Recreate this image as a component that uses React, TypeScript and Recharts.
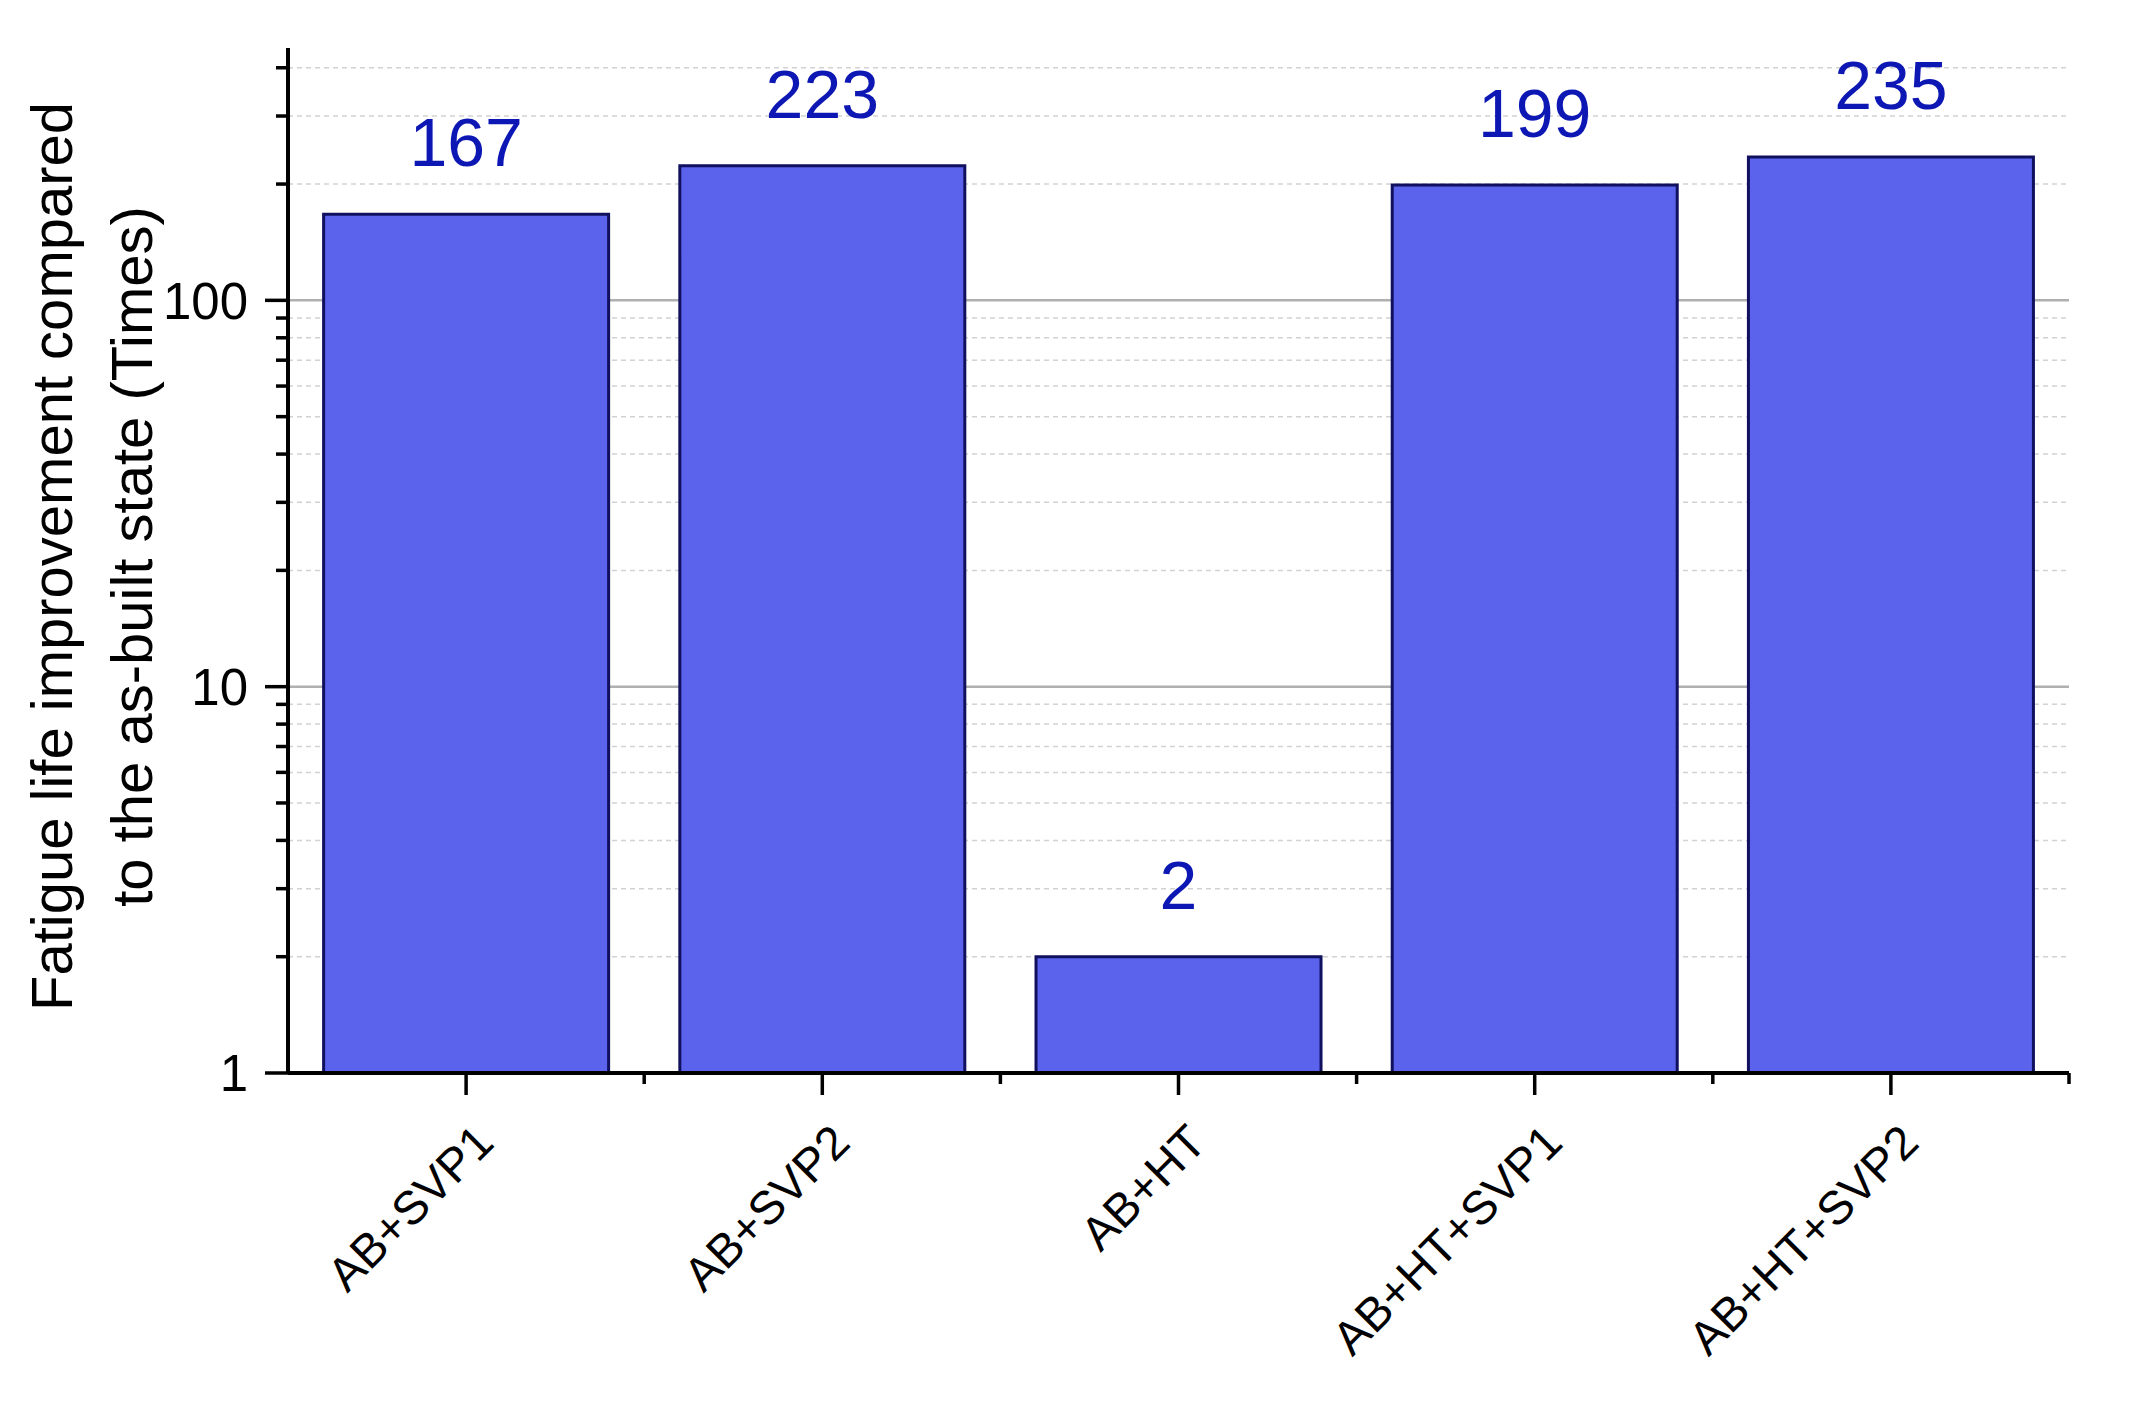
// Fatigue life improvement per post-treatment, log-scale bar chart (Recharts).

import { Bar, BarChart, CartesianGrid, LabelList, XAxis, YAxis } from 'recharts'

const categories = ['AB+SVP1', 'AB+SVP2', 'AB+HT', 'AB+HT+SVP1', 'AB+HT+SVP2']
const improvement = [167, 223, 2, 199, 235]

const majorTicks = [1, 10, 100]
const minorTicks = [2, 3, 4, 5, 6, 7, 8, 9, 20, 30, 40, 50, 60, 70, 80, 90, 200, 300, 400]
const yDomainMax = 450

const titleLines = ['Fatigue life improvement compared', 'to the as-built state (Times)']

const data = categories.map((name, i) => ({ name, value: improvement[i] }))

const W = 2149
const H = 1411
const M = { top: 48, right: 80, left: 0, bottom: 0 }
const Y_AXIS_W = 288
const X_AXIS_H = 338
const FONT = '"Liberation Sans", Arial, Helvetica, sans-serif'

const plotW = W - M.left - M.right - Y_AXIS_W
const band = plotW / categories.length

function YTick(props: any) {
  const { x, y, payload } = props
  const major = majorTicks.includes(payload.value)
  return (
    <g>
      <line x1={x} x2={x - (major ? 23 : 12)} y1={y} y2={y} stroke="#000" strokeWidth={3.5} />
      {major && (
        <text
          x={x - 40}
          y={y}
          dy="0.36em"
          textAnchor="end"
          fontFamily={FONT}
          fontSize={51}
          fill="#000"
        >
          {payload.value}
        </text>
      )}
    </g>
  )
}

function XTick(props: any) {
  const { x, y, payload } = props
  const bx = x + band / 2
  const tx = x + 30
  const ty = y + 72
  return (
    <g>
      <line x1={x} x2={x} y1={y} y2={y + 22} stroke="#000" strokeWidth={3.5} />
      <line x1={bx} x2={bx} y1={y} y2={y + 11} stroke="#000" strokeWidth={3.5} />
      <text
        x={tx}
        y={ty}
        textAnchor="end"
        transform={`rotate(-45, ${tx}, ${ty})`}
        fontFamily={FONT}
        fontSize={47}
        fill="#000"
      >
        {payload.value}
      </text>
    </g>
  )
}

function YTitle(props: any) {
  const vb = props.viewBox || {}
  const cy = vb.y + vb.height / 2 - 4
  const xs = [72, 152]
  return (
    <g>
      {titleLines.map((t, i) => (
        <text
          key={t}
          x={xs[i]}
          y={cy}
          textAnchor="middle"
          transform={`rotate(-90, ${xs[i]}, ${cy})`}
          fontFamily={FONT}
          fontSize={58}
          fill="#000"
        >
          {t}
        </text>
      ))}
    </g>
  )
}

export default function App() {
  return (
    <div style={{ position: 'absolute', left: 0, top: 0, width: W, height: H, background: '#fff' }}>
      <BarChart width={W} height={H} data={data} margin={M} barCategoryGap="10%">
        <CartesianGrid
          vertical={false}
          horizontalValues={minorTicks}
          stroke="#d2d2d2"
          strokeWidth={1.5}
          strokeDasharray="5 4"
        />
        <CartesianGrid
          vertical={false}
          horizontalValues={[10, 100]}
          stroke="#b0b0b0"
          strokeWidth={2.5}
        />
        <XAxis
          dataKey="name"
          height={X_AXIS_H}
          interval={0}
          tickLine={false}
          tickSize={0}
          tickMargin={0}
          axisLine={{ stroke: '#000', strokeWidth: 4 }}
          tick={<XTick />}
        />
        <YAxis
          scale="log"
          type="number"
          domain={[1, yDomainMax]}
          allowDataOverflow
          ticks={[...majorTicks, ...minorTicks].sort((a, b) => a - b)}
          interval={0}
          width={Y_AXIS_W}
          tickLine={false}
          tickSize={0}
          tickMargin={0}
          axisLine={{ stroke: '#000', strokeWidth: 4 }}
          tick={<YTick />}
          label={{ content: <YTitle /> }}
        />
        <Bar
          dataKey="value"
          fill="#5b62ec"
          stroke="#10105e"
          strokeWidth={3}
          isAnimationActive={false}
        >
          <LabelList
            dataKey="value"
            position="top"
            offset={48}
            fill="#0d17b4"
            fontSize={68}
            fontFamily={FONT}
          />
        </Bar>
      </BarChart>
    </div>
  )
}
